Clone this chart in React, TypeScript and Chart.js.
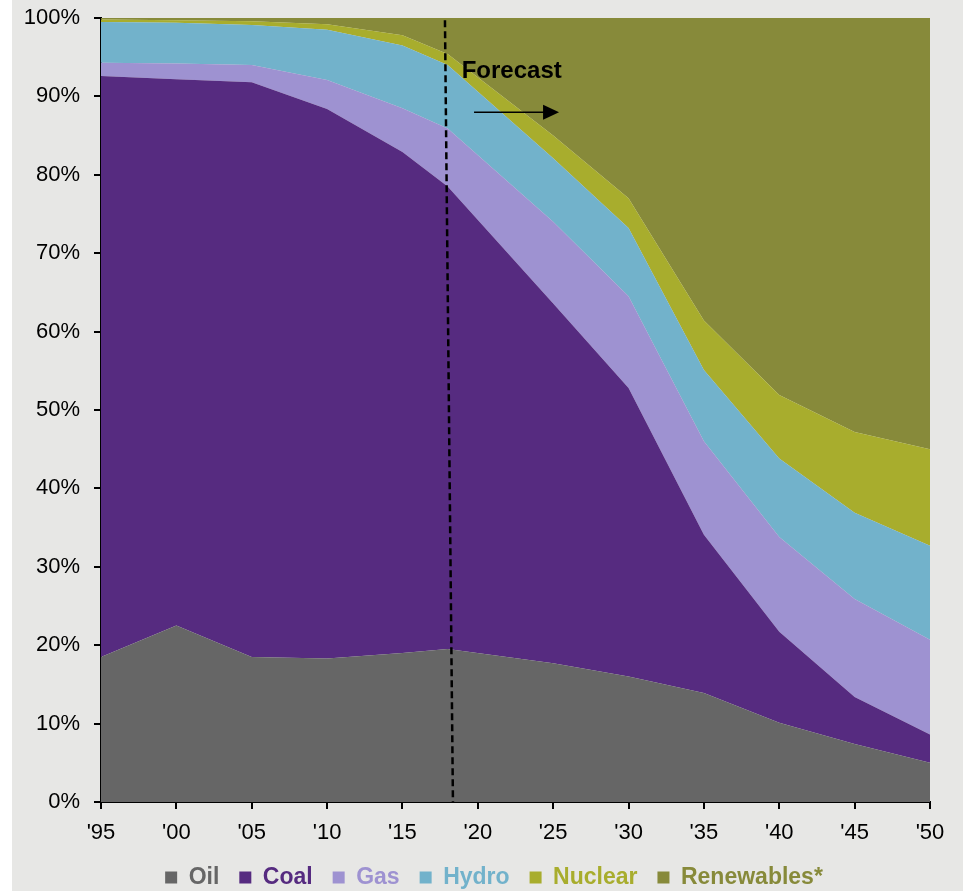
import React, { useEffect, useRef } from 'react';
import { Chart, registerables } from 'chart.js';

Chart.register(...registerables);

// ---- data (percent share of electricity generation) ----
const years = [1995, 2000, 2005, 2010, 2015, 2018, 2025, 2030, 2035, 2040, 2045, 2050];
const oil = [18.5, 22.5, 18.5, 18.3, 19.0, 19.5, 17.7, 16.0, 13.9, 10.1, 7.4, 5.0];
const coal = [74.1, 69.7, 73.3, 70.1, 63.9, 59.0, 45.9, 36.8, 20.2, 11.6, 6.0, 3.6];
const gas = [1.7, 2.0, 2.2, 3.7, 5.6, 7.4, 10.4, 11.7, 11.9, 12.1, 12.5, 12.1];
const hydro = [5.2, 5.2, 5.1, 6.4, 8.0, 8.1, 8.1, 8.7, 9.1, 10.0, 11.0, 12.0];
const nuclear = [0.3, 0.3, 0.5, 0.7, 1.3, 1.4, 2.9, 3.8, 6.3, 8.1, 10.3, 12.3];
const renewables = [0.2, 0.3, 0.4, 0.8, 2.2, 4.6, 15.0, 23.0, 38.6, 48.1, 52.8, 55.0];

const seriesNames = ['Oil', 'Coal', 'Gas', 'Hydro', 'Nuclear', 'Renewables*'];
const seriesValues = [oil, coal, gas, hydro, nuclear, renewables];
const seriesColors = ['#666666', '#562b80', '#9e92d1', '#72b2cb', '#a8ad2d', '#878a3a'];

const xTickValues = [1995, 2000, 2005, 2010, 2015, 2020, 2025, 2030, 2035, 2040, 2045, 2050];
const xTickLabels = ["'95", "'00", "'05", "'10", "'15", "'20", "'25", "'30", "'35", "'40", "'45", "'50"];
const yTickValues = [0, 10, 20, 30, 40, 50, 60, 70, 80, 90, 100];
const yTickLabels = ['0%', '10%', '20%', '30%', '40%', '50%', '60%', '70%', '80%', '90%', '100%'];

// forecast annotation (data coordinates)
const forecastLineTop = { x: 2017.82, y: 99.7 };
const forecastLineBottom = { x: 2018.35, y: 0 };
const forecastLabel = 'Forecast';
const forecastLabelPos = { x: 2018.93, y: 93.25 };
const arrowY = 87.97;
const arrowStartX = 2019.75;
const arrowHeadBaseX = 2024.33;
const arrowTipX = 2025.39;

const FONT = "'Liberation Sans', Arial, Helvetica, sans-serif";

const forecastPlugin = {
  id: 'forecastAnnotation',
  afterLayout(chart: any) {
    // centre the legend row under the plot the way the original does
    if (chart.legend) {
      chart.legend.left += 29;
      chart.legend.right += 29;
    }
  },
  afterDatasetsDraw(chart: any) {
    const { ctx, scales } = chart;
    const x = scales.x;
    const y = scales.y;
    ctx.save();
    // dashed divider
    ctx.strokeStyle = '#000';
    ctx.lineWidth = 2.5;
    ctx.setLineDash([7, 4]);
    ctx.beginPath();
    ctx.moveTo(x.getPixelForValue(forecastLineTop.x), y.getPixelForValue(forecastLineTop.y));
    ctx.lineTo(x.getPixelForValue(forecastLineBottom.x), y.getPixelForValue(forecastLineBottom.y));
    ctx.stroke();
    ctx.setLineDash([]);
    // label
    ctx.fillStyle = '#000';
    ctx.font = `bold 24px ${FONT}`;
    ctx.textAlign = 'left';
    ctx.textBaseline = 'middle';
    ctx.fillText(forecastLabel, x.getPixelForValue(forecastLabelPos.x), y.getPixelForValue(forecastLabelPos.y));
    // arrow
    const ay = y.getPixelForValue(arrowY);
    const x0 = x.getPixelForValue(arrowStartX);
    const x1 = x.getPixelForValue(arrowHeadBaseX);
    const x2 = x.getPixelForValue(arrowTipX);
    ctx.lineWidth = 1.5;
    ctx.beginPath();
    ctx.moveTo(x0, ay);
    ctx.lineTo(x1 + 1, ay);
    ctx.stroke();
    ctx.beginPath();
    ctx.moveTo(x1, ay - 7.5);
    ctx.lineTo(x2, ay);
    ctx.lineTo(x1, ay + 7.5);
    ctx.closePath();
    ctx.fill();
    ctx.restore();
  },
};

export default function App() {
  const canvasRef = useRef<HTMLCanvasElement | null>(null);

  useEffect(() => {
    const canvas = canvasRef.current;
    if (!canvas) return;
    Chart.defaults.font.family = FONT;

    const datasets = seriesNames.map((name, i) => ({
      label: name,
      data: years.map((yr, j) => ({ x: yr, y: seriesValues[i][j] })),
      backgroundColor: seriesColors[i],
      borderColor: seriesColors[i],
      borderWidth: 0,
      pointRadius: 0,
      pointHoverRadius: 0,
      tension: 0,
      fill: i === 0 ? 'origin' : '-1',
    }));

    const chart = new Chart(canvas, {
      type: 'line',
      data: { datasets },
      plugins: [forecastPlugin],
      options: {
        responsive: false,
        animation: false,
        devicePixelRatio: 1,
        events: [],
        layout: { padding: { left: 0, right: 33, top: 18, bottom: 1 } },
        plugins: {
          tooltip: { enabled: false },
          legend: {
            position: 'bottom',
            labels: {
              boxWidth: 12,
              boxHeight: 12,
              padding: 20,
              font: { size: 23, weight: 'bold', family: FONT },
              generateLabels: (c: any) =>
                c.data.datasets.map((d: any, i: number) => ({
                  text: d.label,
                  fillStyle: d.backgroundColor,
                  strokeStyle: d.backgroundColor,
                  fontColor: d.backgroundColor,
                  lineWidth: 0,
                  hidden: false,
                  datasetIndex: i,
                })),
            },
          },
        },
        scales: {
          x: {
            type: 'linear',
            min: 1995,
            max: 2050,
            afterBuildTicks: (s: any) => {
              s.ticks = xTickValues.map((v) => ({ value: v }));
            },
            afterFit: (s: any) => {
              s.height = 44;
            },
            ticks: {
              autoSkip: false,
              maxRotation: 0,
              padding: 11,
              color: '#000',
              font: { size: 22 },
              callback: (v: any) => {
                const k = xTickValues.indexOf(Number(v));
                return k >= 0 ? xTickLabels[k] : '';
              },
            },
            grid: { drawOnChartArea: false, drawTicks: true, tickLength: 7, color: '#000', lineWidth: 2 },
            border: { display: true, color: '#000', width: 2 },
          },
          y: {
            stacked: true,
            min: 0,
            max: 100,
            afterBuildTicks: (s: any) => {
              s.ticks = yTickValues.map((v) => ({ value: v }));
            },
            afterFit: (s: any) => {
              s.width = 101;
              s.paddingTop = 0;
              s.paddingBottom = 0;
            },
            ticks: {
              padding: 14,
              color: '#000',
              font: { size: 22 },
              callback: (v: any) => {
                const k = yTickValues.indexOf(Number(v));
                return k >= 0 ? yTickLabels[k] : '';
              },
            },
            grid: { drawOnChartArea: false, drawTicks: true, tickLength: 7, color: '#000', lineWidth: 2 },
            border: { display: true, color: '#000', width: 2 },
          },
        },
      } as any,
    });

    return () => chart.destroy();
  }, []);

  return (
    <div>
      <div
        style={{
          position: 'fixed',
          left: 12,
          top: 0,
          width: 951,
          height: 891,
          background: '#e7e7e5',
        }}
      />
      <canvas
        ref={canvasRef}
        width={963}
        height={900}
        style={{ position: 'fixed', left: 0, top: 0, width: 963, height: 900 }}
      />
    </div>
  );
}
